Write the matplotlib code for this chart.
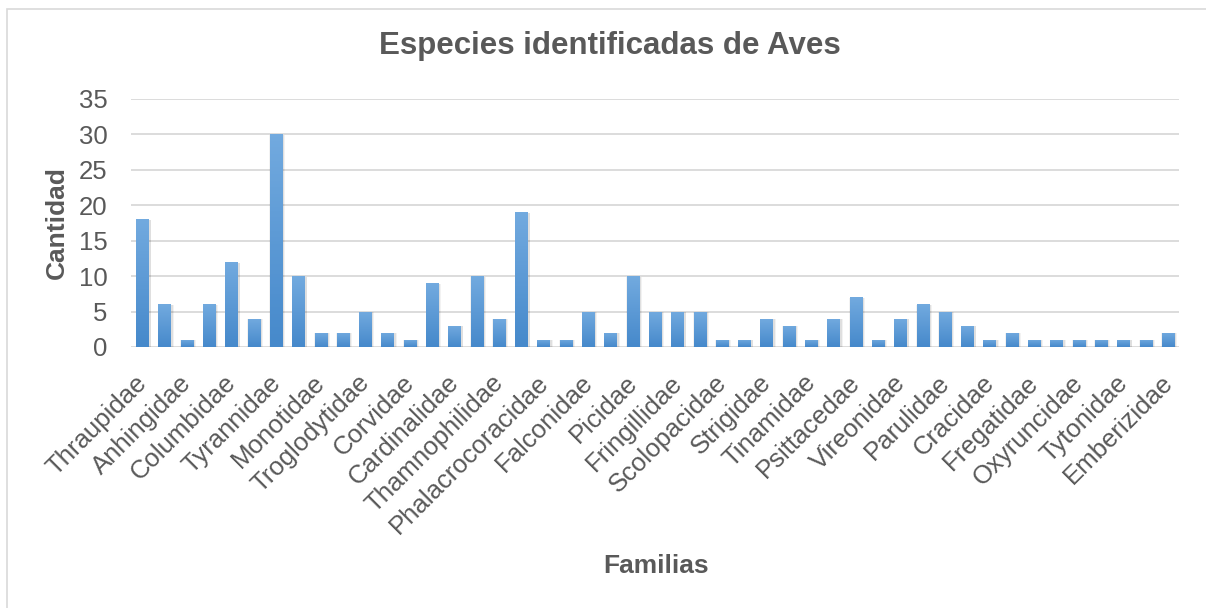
import matplotlib

matplotlib.use("Agg")

import matplotlib.pyplot as plt
import numpy as np
from matplotlib.colors import LinearSegmentedColormap
from matplotlib.patches import Rectangle
from matplotlib.transforms import ScaledTranslation

# one value per family (47 bars), only every other family name is printed
counts = [18, 6, 1, 6, 12, 4, 30, 10, 2, 2, 5, 2, 1, 9, 3, 10, 4, 19, 1, 1,
          5, 2, 10, 5, 5, 5, 1, 1, 4, 3, 1, 4, 7, 1, 4, 6, 5, 3, 1, 2,
          1, 1, 1, 1, 1, 1, 2]
shown_labels = ["Thraupidae", "Anhingidae", "Columbidae", "Tyrannidae", "Monotidae",
                "Troglodytidae", "Corvidae", "Cardinalidae", "Thamnophilidae",
                "Phalacrocoracidae", "Falconidae", "Picidae", "Fringillidae",
                "Scolopacidae", "Strigidae", "Tinamidae", "Psittacedae", "Vireonidae",
                "Parulidae", "Cracidae", "Fregatidae", "Oxyruncidae", "Tytonidae",
                "Emberizidae"]
y_ticks = [0, 5, 10, 15, 20, 25, 30, 35]

TEXT = "#595959"
GRID = "#D9D9D9"
W, H, DPI = 1206, 608, 100

plt.rcParams["font.family"] = ["Liberation Sans", "DejaVu Sans"]

fig = plt.figure(figsize=(W / DPI, H / DPI), dpi=DPI)
ax = fig.add_axes([131 / W, 1 - 347 / H, (1179 - 131) / W, (347 - 99) / H])

x = np.arange(len(counts))
bw = 0.54

# soft shadow behind the bars
for k, a in [(0.16, 0.05), (0.09, 0.08)]:
    ax.bar(x + 0.06, np.array(counts) + 0.12, width=bw + k, bottom=-0.2,
           color="black", alpha=a, linewidth=0, zorder=2)

bars = ax.bar(x, counts, width=bw, color="#5A9BD8", linewidth=0, zorder=3)

cmap = LinearSegmentedColormap.from_list("barfill", ["#4689CB", "#72AADF"])
grad = np.linspace(0, 1, 64).reshape(-1, 1)
for rect in bars:
    x0, y0 = rect.get_xy()
    im = ax.imshow(grad, extent=[x0, x0 + rect.get_width(), y0, y0 + rect.get_height()],
                   aspect="auto", origin="lower", cmap=cmap, zorder=4)
    im.set_clip_path(rect)

ax.set_xlim(-0.5, len(counts) - 0.5)
ax.set_ylim(0, 35)
ax.set_yticks(y_ticks)
ax.yaxis.grid(True, color=GRID, linewidth=1.3)
ax.set_axisbelow(True)
for s in ax.spines.values():
    s.set_visible(False)

ax.set_xticks(x[::2])
ax.set_xticklabels(shown_labels, rotation=45, ha="right", va="center",
                   rotation_mode="anchor")
ax.tick_params(axis="x", length=0, pad=0, labelsize=18.5, labelcolor=TEXT)
ax.tick_params(axis="y", length=0, pad=17, labelsize=18.5, labelcolor=TEXT)
offset = ScaledTranslation(1 / DPI, -32 / DPI, fig.dpi_scale_trans)
for lab in ax.get_xticklabels():
    lab.set_transform(lab.get_transform() + offset)

fig.text(610 / W, 1 - 46 / H, "Especies identificadas de Aves", ha="center", va="center",
         fontsize=22.5, fontweight="bold", color=TEXT)
fig.text(57 / W, 1 - 223 / H, "Cantidad", rotation=90, ha="center", va="center",
         fontsize=19, fontweight="bold", color=TEXT)
fig.text(656 / W, 1 - 566 / H, "Familias", ha="center", va="center",
         fontsize=19, fontweight="bold", color=TEXT)

# chart-area border (runs off the right and bottom edges)
fig.patches.append(Rectangle((7 / W, -0.1), 1.2, 1 - 9 / H + 0.1, transform=fig.transFigure,
                             fill=False, edgecolor=GRID, linewidth=1.2))

fig.savefig("out.png", dpi=DPI)
